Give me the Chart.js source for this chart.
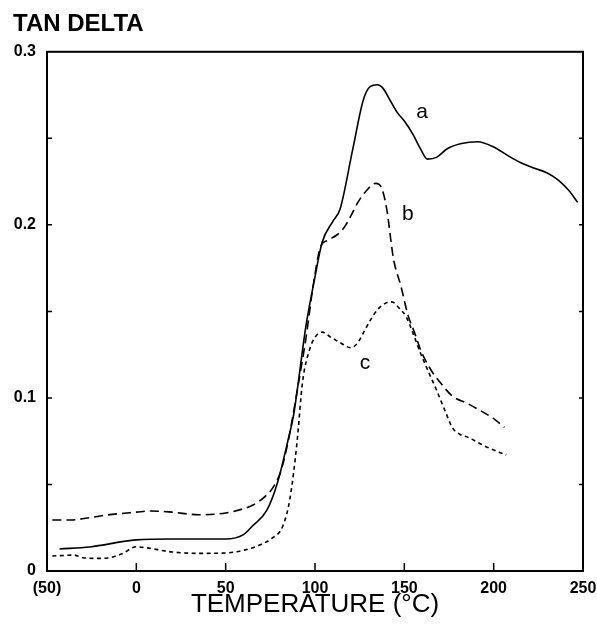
<!DOCTYPE html>
<html>
<head>
<meta charset="utf-8">
<script src="https://cdn.jsdelivr.net/npm/chart.js@4/dist/chart.umd.min.js"></script>
<style>
  html, body { margin: 0; padding: 0; background: #fff; }
  #wrap { width: 597px; height: 631px; }
</style>
</head>
<body>
<div id="wrap"><canvas id="tan-chart" width="597" height="631"></canvas></div>
<script>
// curve a (solid)
const tempA = [-43, -26, 0, 20, 50, 60, 65, 73, 79, 85, 88, 95, 100, 104, 110, 114, 121, 127, 131, 135, 138, 142, 146, 150, 155, 159, 163, 168, 174, 182, 191, 200, 208, 215, 222, 230, 236, 242, 247];
const tanA = [0.0127, 0.0139, 0.018, 0.0185, 0.0185, 0.021, 0.026, 0.035, 0.051, 0.076, 0.09, 0.142, 0.17, 0.19, 0.202, 0.209, 0.243, 0.272, 0.28, 0.281, 0.279, 0.272, 0.265, 0.26, 0.252, 0.244, 0.238, 0.239, 0.244, 0.247, 0.248, 0.245, 0.24, 0.236, 0.233, 0.23, 0.226, 0.22, 0.213];

// curve b (long dashes)
const tempB = [-47, -37, -25, -16, 0, 8, 20, 35, 50, 60, 65, 72, 77, 81, 85, 90, 95, 99, 103, 107, 112, 116, 120, 124, 129, 134, 137, 140, 144, 148, 152, 156, 159, 165, 170, 177, 185, 192, 200, 206];
const tanB = [0.0295, 0.0295, 0.031, 0.0324, 0.034, 0.0347, 0.034, 0.0325, 0.0335, 0.036, 0.038, 0.043, 0.049, 0.058, 0.075, 0.104, 0.135, 0.165, 0.187, 0.191, 0.194, 0.198, 0.205, 0.213, 0.22, 0.224, 0.222, 0.21, 0.18, 0.165, 0.148, 0.137, 0.128, 0.116, 0.109, 0.101, 0.097, 0.093, 0.088, 0.083];

// curve c (short dashes)
const tempC = [-47, -40, -35, -30, -22, -16, -8, 0, 5, 20, 35, 50, 60, 69, 76, 82, 86, 90, 93, 97, 100, 104, 109, 114, 120, 124, 127, 131, 135, 140, 143, 147, 151, 155, 159, 164, 168, 173, 177, 181, 185, 196, 207];
const tanC = [0.0087, 0.009, 0.0092, 0.0077, 0.0073, 0.0075, 0.01, 0.014, 0.0135, 0.011, 0.0102, 0.0104, 0.012, 0.015, 0.019, 0.026, 0.042, 0.075, 0.109, 0.128, 0.135, 0.138, 0.135, 0.132, 0.129, 0.132, 0.1375, 0.145, 0.151, 0.155, 0.1555, 0.152, 0.147, 0.137, 0.126, 0.114, 0.1046, 0.092, 0.0826, 0.079, 0.0775, 0.0717, 0.067];

const xTicks = [-50, 0, 50, 100, 150, 200, 250];
const yTicks = [0, 0.1, 0.2, 0.3];

// curve letters and where they sit (data units)
const curveNames = ["a", "b", "c"];
const nameTemp = [160, 152, 128];
const nameTan = [0.265, 0.206, 0.12];

function pts(xs, ys) {
  return xs.map((x, i) => ({ x: x, y: ys[i] }));
}

// frame, inward ticks, curve letters
const framePlugin = {
  id: "frame",
  afterDatasetsDraw(chart) {
    const ctx = chart.ctx;
    const xs = chart.scales.x;
    const ys = chart.scales.y;
    const l = xs.getPixelForValue(-50), r = xs.getPixelForValue(250);
    const b = ys.getPixelForValue(0), t = ys.getPixelForValue(0.3);
    ctx.save();
    ctx.strokeStyle = "#000";
    ctx.lineWidth = 2;
    ctx.setLineDash([]);
    ctx.strokeRect(l, t, r - l, b - t);
    ctx.lineWidth = 1.5;
    ctx.beginPath();
    xTicks.slice(1, -1).forEach((v) => {
      const px = xs.getPixelForValue(v);
      ctx.moveTo(px, b);
      ctx.lineTo(px, b - 8);
    });
    for (let v = 0.05; v < 0.3; v += 0.05) {
      const py = ys.getPixelForValue(v);
      ctx.moveTo(l, py);
      ctx.lineTo(l + 5, py);
      ctx.moveTo(r, py);
      ctx.lineTo(r - 4, py);
    }
    ctx.stroke();
    ctx.fillStyle = "#000";
    ctx.font = "21px 'Liberation Sans', Arial, sans-serif";
    ctx.textAlign = "center";
    ctx.textBaseline = "middle";
    curveNames.forEach((n, i) => {
      ctx.fillText(n, xs.getPixelForValue(nameTemp[i]), ys.getPixelForValue(nameTan[i]));
    });
    ctx.restore();
  },
};

const lineCommon = {
  borderColor: "#000",
  borderWidth: 1.6,
  pointRadius: 0,
  fill: false,
  cubicInterpolationMode: "monotone",
};

const tanChart = new Chart(document.querySelector("#tan-chart").getContext("2d"), {
  type: "line",
  data: {
    datasets: [
      Object.assign({ label: "a", data: pts(tempA, tanA) }, lineCommon),
      Object.assign({ label: "b", data: pts(tempB, tanB), borderDash: [9, 5] }, lineCommon),
      Object.assign({ label: "c", data: pts(tempC, tanC), borderDash: [4, 3.5] }, lineCommon),
    ],
  },
  options: {
    responsive: false,
    animation: false,
    layout: { padding: { left: 13, right: 14, top: 0, bottom: 11 } },
    plugins: {
      legend: { display: false },
      tooltip: { enabled: false },
      title: {
        display: true,
        text: "TAN DELTA",
        align: "start",
        color: "#000",
        font: { family: "'Liberation Sans', Arial, sans-serif", size: 24, weight: "bold" },
        padding: { top: 10, bottom: 13 },
      },
    },
    scales: {
      x: {
        type: "linear",
        min: -50,
        max: 250,
        grid: { display: false },
        border: { display: false },
        afterBuildTicks(scale) {
          scale.ticks = xTicks.map((v) => ({ value: v }));
        },
        afterFit(scale) {
          scale.height = 49;
        },
        ticks: {
          color: "#000",
          padding: 0,
          maxRotation: 0,
          font: { family: "'Liberation Sans', Arial, sans-serif", size: 16, weight: "bold" },
          callback: (v) => (v < 0 ? "(" + -v + ")" : String(v)),
        },
        title: {
          display: true,
          text: "TEMPERATURE (°C)",
          color: "#000",
          padding: { top: 0, bottom: 0 },
          font: { family: "'Liberation Sans', Arial, sans-serif", size: 26 },
        },
      },
      y: {
        min: 0,
        max: 0.3,
        grid: { display: false, drawTicks: false, tickLength: 0 },
        border: { display: false },
        afterBuildTicks(scale) {
          scale.ticks = yTicks.map((v) => ({ value: v }));
        },
        afterFit(scale) {
          scale.width = 34;
        },
        ticks: {
          color: "#000",
          padding: 11,
          font: { family: "'Liberation Sans', Arial, sans-serif", size: 16, weight: "bold" },
          callback: (v) => (v === 0 ? "0" : v.toFixed(1)),
        },
      },
    },
  },
  plugins: [framePlugin],
});
</script>
</body>
</html>
